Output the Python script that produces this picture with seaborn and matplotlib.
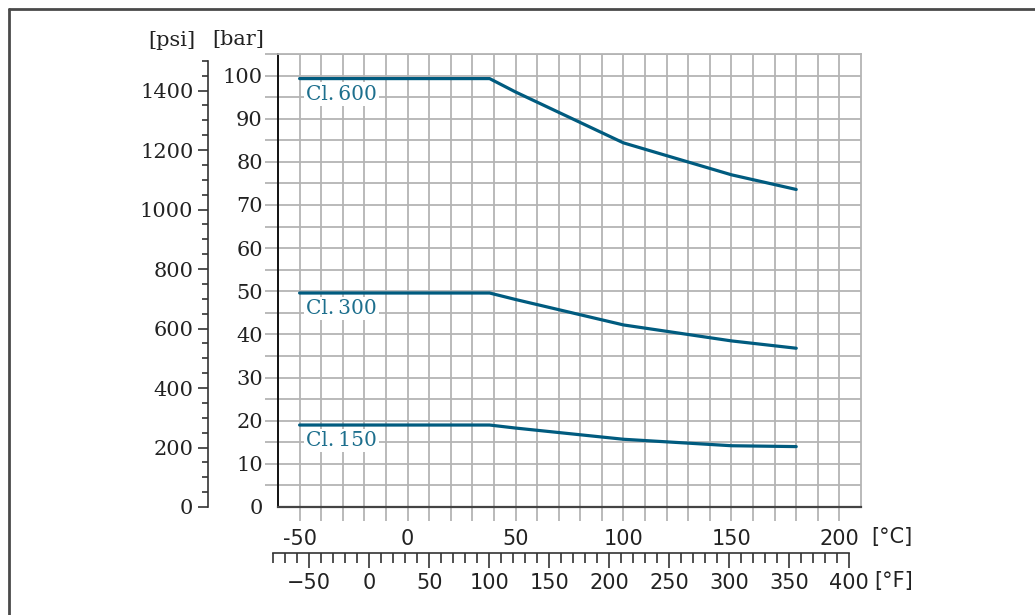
import numpy as np
import pandas as pd
import matplotlib
matplotlib.use("Agg")
import matplotlib.pyplot as plt
import seaborn as sns
from matplotlib.ticker import FixedLocator, FuncFormatter
from matplotlib.lines import Line2D

# ---------------- data ----------------
temps_c = [-50, 38, 50, 100, 150, 180]
cl150 = [19.0, 19.0, 18.3, 15.7, 14.2, 14.0]
cl300 = [49.6, 49.6, 48.1, 42.2, 38.5, 36.8]
cl600 = [99.3, 99.3, 96.2, 84.4, 77.0, 73.6]
class_names = ["Cl.\u2009150", "Cl.\u2009300", "Cl.\u2009600"]

bar_labels = list(range(0, 101, 10))
psi_labels = list(range(0, 1401, 200))
c_labels = list(range(-50, 201, 50))
f_labels = list(range(-50, 401, 50))

# ---------------- style ----------------
sns.set_theme(style="white")
plt.rcParams['font.family'] = ['DejaVu Serif']
TXT = "#222222"
LINE = "#005b7f"
LBL = "#1d6f8d"
GRID = "#b4b4b4"

W, H = 1035, 615
fig = plt.figure(figsize=(W / 100, H / 100), dpi=100)


def fx(px):
    return px / W


def fy(py):
    return 1 - py / H


L, R, T, B = 278, 861, 54, 507
ax = fig.add_axes([fx(L), fy(B), (R - L) / W, (B - T) / H])

df = pd.DataFrame({
    "T": temps_c * 3,
    "p": cl150 + cl300 + cl600,
    "cls": [class_names[0]] * len(temps_c) + [class_names[1]] * len(temps_c)
           + [class_names[2]] * len(temps_c),
})
sns.lineplot(data=df, x="T", y="p", hue="cls", palette=[LINE] * 3,
             linewidth=2.3, legend=False, ax=ax, estimator=None, sort=False,
             zorder=5)

ax.set_xlim(-60, 210)
ax.set_ylim(0, 105)
ax.set_xlabel("")
ax.set_ylabel("")

ax.xaxis.set_major_locator(FixedLocator(np.arange(-50, 201, 10)))
ax.yaxis.set_major_locator(FixedLocator(np.arange(0, 106, 5)))
ax.xaxis.set_major_formatter(FuncFormatter(
    lambda v, p: f"{int(round(v))}" if int(round(v)) in c_labels else ""))
ax.yaxis.set_major_formatter(FuncFormatter(
    lambda v, p: f"{int(round(v))}" if int(round(v)) in bar_labels else ""))
ax.grid(True, color=GRID, linewidth=1.3)
ax.set_axisbelow(True)
ax.tick_params(axis="y", which="major", direction="out", length=9.4,
               width=1.3, color=GRID, pad=1.5, labelsize=15,
               labelcolor=TXT, left=True)
ax.tick_params(axis="x", which="major", direction="out", length=10,
               width=1.3, color=GRID, pad=6, labelsize=15,
               labelcolor=TXT, bottom=True)
for lab in ax.get_xticklabels():
    lab.set_fontfamily("DejaVu Sans")
ax.yaxis.get_major_ticks()[0].tick1line.set_visible(False)

for s in ["top", "right"]:
    ax.spines[s].set_color(GRID)
    ax.spines[s].set_linewidth(1.3)
ax.spines["left"].set_color("#111111")
ax.spines["left"].set_linewidth(1.4)
ax.spines["bottom"].set_color("#444444")
ax.spines["bottom"].set_linewidth(1.6)

# class labels
for name, vals in zip(class_names, [cl150, cl300, cl600]):
    ax.text(-47, vals[0] - 3.6, name, color=LBL, fontsize=14.5,
            ha="left", va="center", zorder=6,
            bbox=dict(boxstyle="square,pad=0.12", fc="white", ec="none"))

# ---------------- psi axis ----------------
PSI_PER_BAR = 14.5038
axp = fig.add_axes([fx(208), fy(B), 0.002, (B - T) / H])
axp.patch.set_visible(False)
axp.set_ylim(0, 105 * PSI_PER_BAR)
for s in ["top", "right", "bottom"]:
    axp.spines[s].set_visible(False)
axp.spines["left"].set_bounds(0, 1500)
axp.spines["left"].set_color("#333333")
axp.spines["left"].set_linewidth(1.2)
axp.set_xticks([])
axp.yaxis.set_major_locator(FixedLocator(psi_labels))
axp.yaxis.set_minor_locator(FixedLocator(np.arange(0, 1501, 50)))
axp.tick_params(axis="y", which="major", direction="out", length=7,
                width=1.2, color="#333333", pad=3.5, labelsize=15,
                labelcolor=TXT, left=True)
axp.tick_params(axis="y", which="minor", direction="out", length=4.5,
                width=1.2, color="#333333", left=True)

# ---------------- Fahrenheit axis ----------------
FL = 407.6 + (-80 - 32) / 1.8 * (583 / 270)
axf = fig.add_axes([fx(FL), fy(553.3), (R - FL) / W, 0.001])
axf.patch.set_visible(False)
axf.set_xlim(-80, 410)
for s in ["top", "right", "left"]:
    axf.spines[s].set_visible(False)
axf.spines["bottom"].set_bounds(-80, 400)
axf.spines["bottom"].set_color("#333333")
axf.spines["bottom"].set_linewidth(1.2)
axf.set_yticks([])
axf.xaxis.set_major_locator(FixedLocator(f_labels))
axf.xaxis.set_minor_locator(FixedLocator(np.arange(-80, 401, 10)))
axf.tick_params(axis="x", which="major", direction="out", length=10.8,
                width=1.2, color="#333333", pad=3.5, labelsize=15,
                labelcolor=TXT, bottom=True)
axf.tick_params(axis="x", which="minor", direction="out", length=7.2,
                width=1.2, color="#333333", bottom=True)
for lab in axf.get_xticklabels():
    lab.set_fontfamily("DejaVu Sans")

# ---------------- unit labels ----------------
fig.text(fx(172), fy(40), "[psi]", ha="center", va="center",
         fontsize=15, color=TXT)
fig.text(fx(238), fy(40), "[bar]", ha="center", va="center",
         fontsize=15, color=TXT)
fig.text(fx(871), fy(537), "[°C]", ha="left", va="center",
         fontsize=15, color=TXT, family="DejaVu Sans")
fig.text(fx(874), fy(581), "[°F]", ha="left", va="center",
         fontsize=15, color=TXT, family="DejaVu Sans")

# ---------------- frame ----------------
fig.add_artist(Line2D([fx(8.5), 1], [fy(8.5), fy(8.5)], color="#4a4a4a",
                      linewidth=2))
fig.add_artist(Line2D([fx(8.5), fx(8.5)], [fy(8.5), 0], color="#4a4a4a",
                      linewidth=2))

fig.savefig("out.png", dpi=100)
